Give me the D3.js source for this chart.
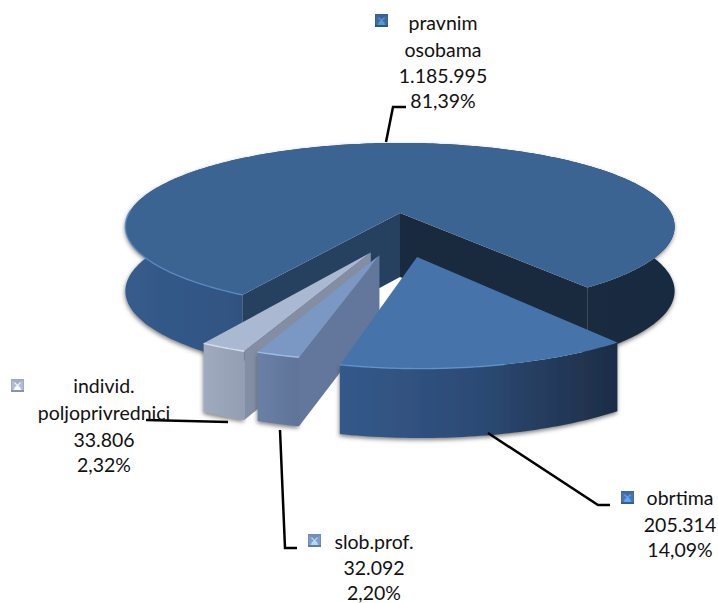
<!DOCTYPE html>
<html><head><meta charset="utf-8">
<script src="https://cdn.jsdelivr.net/npm/d3@7"></script>
<style>html,body{margin:0;padding:0;background:#fff}svg{display:block}text{font-family:Lato,"Open Sans",sans-serif;font-size:19.5px;fill:#111;text-anchor:middle}</style>
</head><body><div id="c"></div>
<script>
// data
const categories = ["pravnim osobama","obrtima","slob.prof.","individ. poljoprivrednici"];
const values = [1185995,205314,32092,33806];
const valueLabels = ["1.185.995","205.314","32.092","33.806"];
const percentLabels = ["81,39%","14,09%","2,20%","2,32%"];
const labelLines = [["pravnim","osobama"],["obrtima"],["slob.prof."],["individ.","poljoprivrednici"]];

// layout & style
const W=718,H=603, cx=400, cy=213, persp=.162, depth=64;
const xS=d3.scaleLinear().domain([-1,1]).range([-271,271]);
const yS=d3.scaleLinear().domain([-1,1]).range([-81.3,81.3]);
const deg=Math.PI/180;
const explodeX=[0,.058,-.07,-.1], explodeT=[0,.498,.48,.45], radius=[1,.963,.925,.95];
const tops=["#3c6492","#4674aa","#7a98c3","#abb8d2"];
const sideWalls=["#26405f","#000","#62779b","#838ea5"];
const highlight=["#5a8bc4","#5f94d2","#a8c4ec","#dce8fb"];
const wallStops=[
 [[125,"#355c8c"],[250,"#2f5281"],[400,"#203650"],[560,"#1a2a40"],[675,"#192a40"]],
 [[342,"#34598a"],[480,"#2c4a74"],[615,"#1d2d46"]],
 [[257,"#6a80a6"],[301,"#5f7397"]],
 [[205,"#a0aabe"],[247,"#929db3"]]];
const legends=[
 {mx:375,my:14,tx:443,base:[30,57,83,108],leader:[[386,142],[393,107],[406,107]]},
 {mx:621,my:491,tx:680,base:[505,532,557],leader:[[488,433],[598,505],[610,505]]},
 {mx:308,my:534,tx:374,base:[549,575,600],leader:[[280,430],[285,548],[297,548]]},
 {mx:11,my:379,tx:104,base:[393,420,447,472],leader:[[146,420],[228,422]]}];

function project(i,a,r,z){
  const px=explodeX[i]+r*Math.sin(a), t=explodeT[i]-r*Math.cos(a), s=1/(1-persp*t);
  return [cx+xS(px)*s, cy+yS(t)*s+z*depth*Math.pow(s,.3)];
}
const svg=d3.select("#c").append("svg").attr("width",W).attr("height",H);
svg.append("rect").attr("width",W).attr("height",H).attr("fill","#fff");
const defs=svg.append("defs");
const f=defs.append("filter").attr("id","sh").attr("x","-10%").attr("y","-10%").attr("width","120%").attr("height","125%");
f.append("feDropShadow").attr("dx",-.5).attr("dy",2).attr("stdDeviation",2).attr("flood-color","#555").attr("flood-opacity",.75);
wallStops.forEach((st,i)=>{
  const g=defs.append("linearGradient").attr("id","w"+i).attr("gradientUnits","userSpaceOnUse")
    .attr("x1",st[0][0]).attr("x2",st[st.length-1][0]).attr("y1",0).attr("y2",0);
  st.forEach(d=>g.append("stop").attr("offset",(d[0]-st[0][0])/(st[st.length-1][0]-st[0][0])).attr("stop-color",d[1]));
});
const pie=d3.pie().sort(null).value(d=>d).startAngle(210*deg).endAngle(570*deg);
const arcs=pie(values);
const line=d3.line();
function arcPts(i,a0,a1,z){const r=radius[i],n=Math.max(8,Math.ceil(Math.abs(a1-a0)/deg));
  return d3.range(n+1).map(k=>project(i,a0+(a1-a0)*k/n,r,z));}
function outerWall(i,a0,a1){return line(arcPts(i,a0,a1,0).concat(arcPts(i,a1,a0,1)))+"Z";}
function radial(i,a){const v0=project(i,0,0,0),v1=project(i,0,0,1),c0=project(i,a,radius[i],0),c1=project(i,a,radius[i],1);
  return line([v0,c0,c1,v1])+"Z";}
function topFace(i,a0,a1){return line([project(i,0,0,0)].concat(arcPts(i,a0,a1,0)))+"Z";}

[0,3,2,1].forEach(i=>{
  const d=arcs[i], a0=d.startAngle, a1=d.endAngle;
  const g=svg.append("g");
  const body=g.append("g").attr("filter","url(#sh)");
  body.append("path").attr("d",outerWall(i,a0,a1)).attr("fill","url(#w"+i+")");
  if(i===0){
    g.append("path").attr("d",radial(0,a1)).attr("fill","#1a2a3e");
    g.append("path").attr("d",radial(0,a0)).attr("fill",sideWalls[0]);
  } else if(i>1){
    g.append("path").attr("d",radial(i,a0)).attr("fill",sideWalls[i]);
  }
  g.append("path").attr("d",topFace(i,a0,a1)).attr("fill",tops[i]);
  // bevel highlight on the front rim
  const hl=i===1?[a1-28*deg,a1]:(i===0?[a0,a0+62*deg]:[a0,a1]);
  g.append("path").attr("d",line(arcPts(i,hl[0],hl[1],0))).attr("fill","none")
    .attr("stroke",highlight[i]).attr("stroke-width",1.4).attr("stroke-opacity",.85);
});

// leaders
legends.forEach(l=>svg.append("path").attr("d",line(l.leader)).attr("fill","none").attr("stroke","#000").attr("stroke-width",2.5));

// legend keys and labels
const keyBase=["#3f6c9f","#4677b0","#7f9cc8","#b2bdd5"];
const keySize=13;
legends.forEach((l,i)=>{
  const k=svg.append("g").attr("transform",`translate(${l.mx},${l.my})`);
  const c=d3.color(keyBase[i]);
  k.append("rect").attr("width",keySize).attr("height",keySize).attr("fill",c.darker(.3));
  k.append("path").attr("d","M1,1H12L6.5,6.5Z").attr("fill",c.darker(.25));
  k.append("path").attr("d","M1,12H12L6.5,6.5Z").attr("fill",c.brighter(.9));
  k.append("path").attr("d","M1,1V12L6.5,6.5Z").attr("fill",c);
  k.append("path").attr("d","M12,1V12L6.5,6.5Z").attr("fill",c);
  k.append("path").attr("d","M3.5,3.5L9.5,9.5M9.5,3.5L3.5,9.5").attr("stroke",c.brighter(1.1)).attr("stroke-width",1.2).attr("stroke-opacity",.8);
  k.append("rect").attr("y",keySize-2).attr("width",keySize).attr("height",2).attr("fill",c.darker(.7));
  const rows=labelLines[i].concat([valueLabels[i],percentLabels[i]]);
  rows.forEach((t,j)=>svg.append("text").attr("x",l.tx).attr("y",l.base[j]).text(t));
});
</script></body></html>
